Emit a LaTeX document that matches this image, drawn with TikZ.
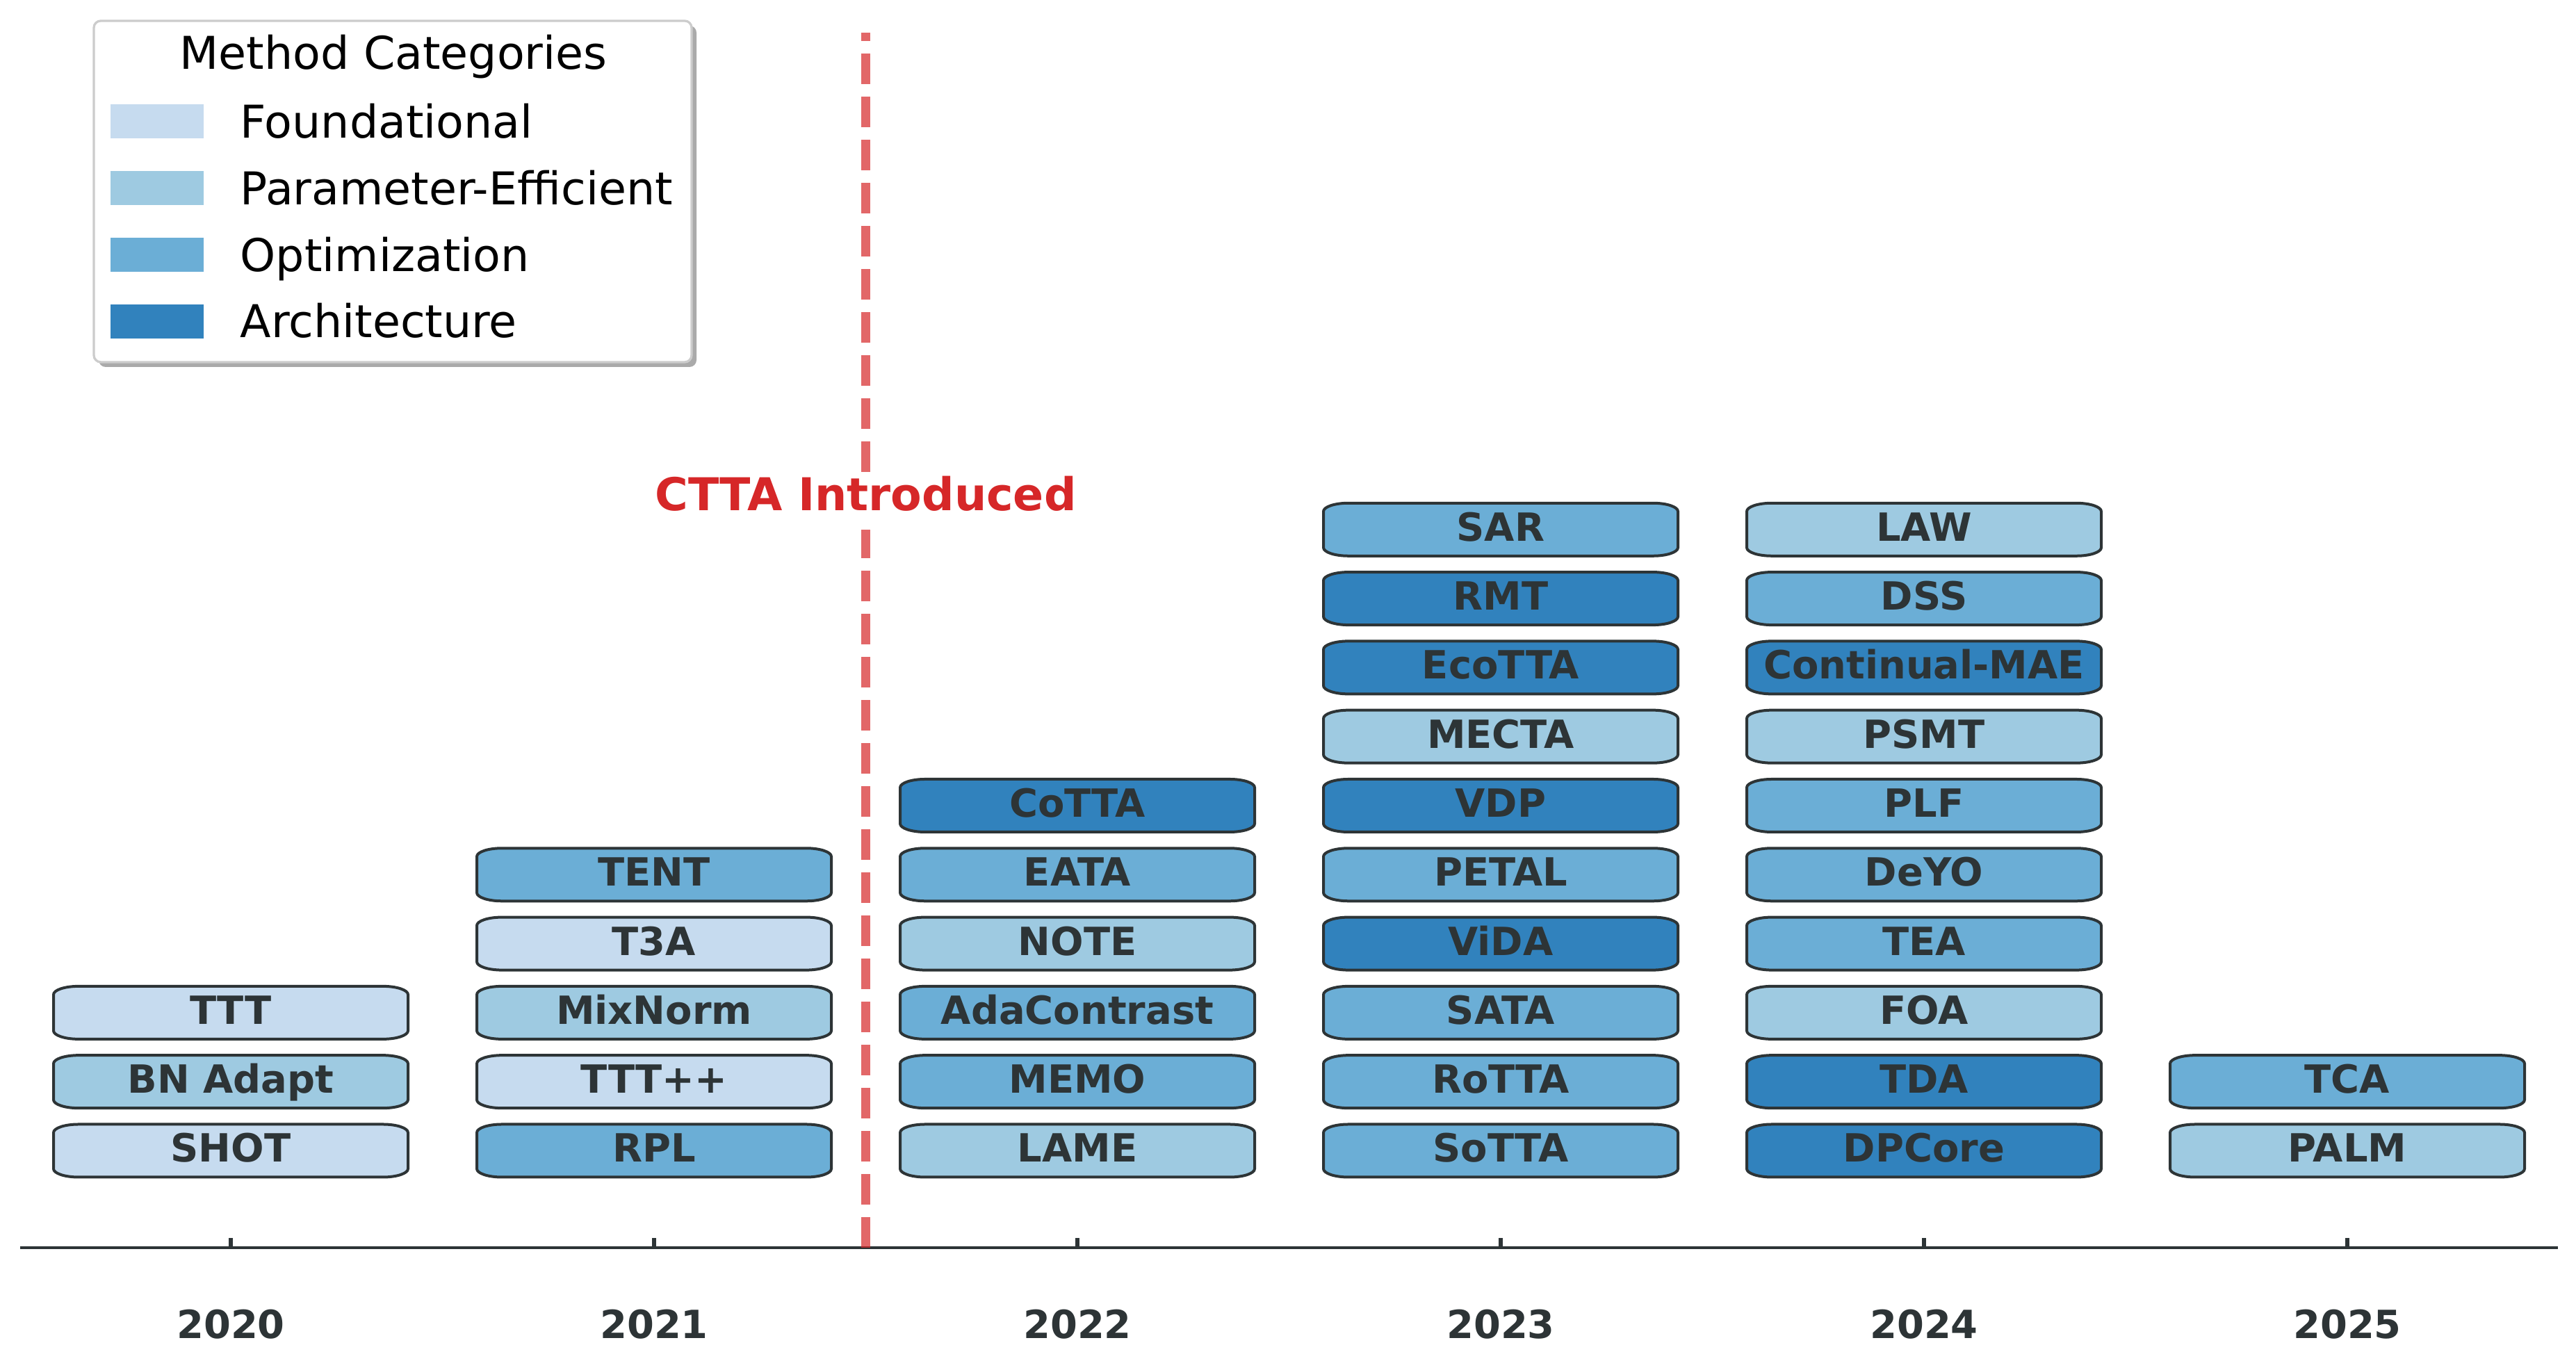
\documentclass[tikz,border=0pt]{standalone}
\usepackage{fontspec}
\setmainfont{DejaVu Sans}
\definecolor{catF}{HTML}{C6DBEF}
\definecolor{catP}{HTML}{9ECAE1}
\definecolor{catO}{HTML}{6BAED6}
\definecolor{catA}{HTML}{3182BD}
\definecolor{ink}{HTML}{2D3436}
\definecolor{ctta}{HTML}{D62728}
\definecolor{legedge}{HTML}{CCCCCC}
\definecolor{legshadow}{HTML}{AAAAAA}
\tikzset{
  method/.style={anchor=base, text=ink, inner sep=0pt,
    font=\fontsize{15.9}{19}\selectfont\bfseries},
  mframe/.style={draw=ink, line width=0.04cm},
  yearlabel/.style={anchor=base, text=ink, inner sep=0pt,
    font=\fontsize{15.9}{19}\selectfont\bfseries},
  axisline/.style={draw=ink, line width=0.045cm},
  tickline/.style={draw=ink, line width=0.06cm},
  legtext/.style={anchor=base west, inner sep=0pt,
    font=\fontsize{18.5}{22}\selectfont},
  swatch/.style={minimum width=1.34cm, minimum height=0.49cm, inner sep=0pt},
  marker/.style={draw=ctta, opacity=0.7, line width=0.13cm,
    dash pattern=on 0.44cm off 0.18cm},
  markertext/.style={anchor=base, text=ctta, fill=white, inner xsep=0.1cm,
    inner ysep=0pt, text height=0.56cm, text depth=0.27cm,
    font=\fontsize{18.5}{22}\selectfont\bfseries},
}
\def\bw{2.55}
\def\bh{0.38}
\def\rx{0.36}
\def\ry{0.12}
\def\rowh{0.993}
% one method: year, row, category colour, label
\newcommand{\methodbox}[4]{%
  \pgfmathsetmacro{\boxcx}{3.32+(#1-2020)*6.09}%
  \pgfmathsetmacro{\boxcy}{3.025+(#2-1)*\rowh}%
  \draw[mframe, fill=#3] (\boxcx-\bw+\rx,\boxcy-\bh) -- (\boxcx+\bw-\rx,\boxcy-\bh)
    arc[start angle=-90, end angle=0, x radius=\rx, y radius=\ry]
    -- (\boxcx+\bw,\boxcy+\bh-\ry)
    arc[start angle=0, end angle=90, x radius=\rx, y radius=\ry]
    -- (\boxcx-\bw+\rx,\boxcy+\bh)
    arc[start angle=90, end angle=180, x radius=\rx, y radius=\ry]
    -- (\boxcx-\bw,\boxcy-\bh+\ry)
    arc[start angle=180, end angle=270, x radius=\rx, y radius=\ry]
    -- cycle;
  \node[method] (m#1-#2) at (\boxcx,\boxcy-0.165) {#4};
}

\begin{document}
\begin{tikzpicture}
\useasboundingbox (0,0) rectangle (37.06,19.58);

%% ---- legend ------------------------------------------------------------
\fill[legshadow, rounded corners=0.1cm] (1.42,14.30) rectangle (10.02,19.21);
\draw[legedge, fill=white, line width=0.033cm, rounded corners=0.1cm]
  (1.35,14.37) rectangle (9.95,19.28);
\node[legtext, anchor=base] (legtitle) at (5.66,18.58) {Method Categories};
\foreach \c/\t/\yy in {catF/Foundational/17.83, catP/Parameter-Efficient/16.87,
    catO/Optimization/15.91, catA/Architecture/14.955} {
  \node[swatch, fill=\c] (sw-\c) at (2.26,\yy) {};
  \node[legtext] (lg-\c) at (3.45,\yy-0.235) {\t};
}

%% ---- time axis ---------------------------------------------------------
\coordinate (axl) at (0.285,1.63);
\coordinate (axr) at (36.795,1.63);
\draw[axisline] (axl) -- (axr);
\foreach \yr [count=\i from 0] in {2020,...,2025} {
  \coordinate (t\yr) at ({3.32+\i*6.09},1.63);
  \draw[tickline] (t\yr) -- ++(0,0.14);
  \node[yearlabel] (yl\yr) at ({3.32+\i*6.09},0.32) {\yr};
}

%% ---- methods, stacked from the axis upwards ----------------------------
\foreach \m/\c [count=\r] in {SHOT/catF, BN Adapt/catP, TTT/catF}
  \methodbox{2020}{\r}{\c}{\m};
\foreach \m/\c [count=\r] in {RPL/catO, TTT++/catF, MixNorm/catP, T3A/catF, TENT/catO}
  \methodbox{2021}{\r}{\c}{\m};
\foreach \m/\c [count=\r] in {LAME/catP, MEMO/catO, AdaContrast/catO, NOTE/catP,
    EATA/catO, CoTTA/catA}
  \methodbox{2022}{\r}{\c}{\m};
\foreach \m/\c [count=\r] in {SoTTA/catO, RoTTA/catO, SATA/catO, ViDA/catA,
    PETAL/catO, VDP/catA, MECTA/catP, EcoTTA/catA, RMT/catA, SAR/catO}
  \methodbox{2023}{\r}{\c}{\m};
\foreach \m/\c [count=\r] in {DPCore/catA, TDA/catA, FOA/catP, TEA/catO, DeYO/catO,
    PLF/catO, PSMT/catP, Continual-MAE/catA, DSS/catO, LAW/catP}
  \methodbox{2024}{\r}{\c}{\m};
\foreach \m/\c [count=\r] in {PALM/catP, TCA/catO}
  \methodbox{2025}{\r}{\c}{\m};

%% ---- CTTA marker -------------------------------------------------------
\coordinate (cttabase) at (12.455,1.63);
\coordinate (cttatop) at (12.455,19.11);
\draw[marker] (cttabase) -- (cttatop);
\node[markertext] (cttalabel) at (12.455,12.23) {CTTA Introduced};

\end{tikzpicture}
\end{document}
